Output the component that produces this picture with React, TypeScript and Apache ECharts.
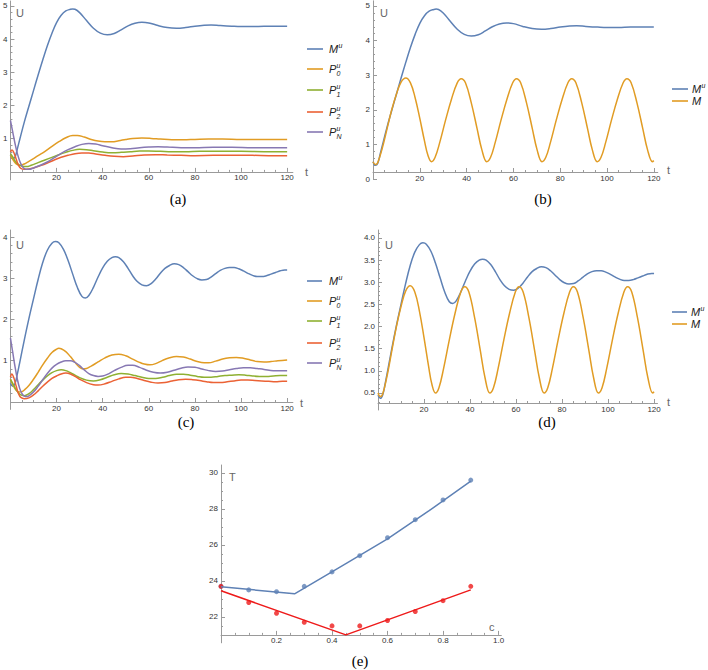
import React, { useEffect, useRef } from "react";
import * as echarts from "echarts";

const BLUE = "#5E81B5";
const ORANGE = "#E19C24";
const GREEN = "#8FB032";
const RED = "#EB6235";
const PURPLE = "#8778B3";
const PURE_RED = "#EE1A1A";
const AX = "#9a9a9a";

// ---- panel (a)/(b) : M^u ----
const muA: number[][] = [[0,0.5],[1,0.4],[2,0.45],[3,0.7],[4,0.97],[6,1.5],[8,1.98],[10,2.45],[12,2.92],[14,3.37],[16,3.8],[18,4.18],[20,4.5],[22,4.72],[24,4.85],[26,4.9],[27,4.91],[28,4.9],[30,4.8],[33,4.56],[36,4.33],[39,4.18],[42,4.13],[45,4.17],[48,4.28],[51,4.4],[54,4.48],[57,4.51],[60,4.49],[64,4.41],[68,4.35],[72,4.33],[76,4.35],[80,4.39],[84,4.42],[87,4.43],[91,4.41],[96,4.39],[100,4.38],[105,4.38],[110,4.39],[115,4.39],[120,4.39]];
const p0A: number[][] = [[0,0.5],[1,0.38],[2,0.28],[3,0.22],[4,0.2],[5,0.21],[6,0.24],[8,0.32],[10,0.4],[12,0.49],[15,0.62],[18,0.77],[21,0.91],[24,1.03],[27,1.1],[29,1.1],[32,1.05],[35,0.98],[38,0.93],[41,0.91],[44,0.91],[47,0.94],[50,0.98],[53,1.01],[57,1.02],[61,1.01],[65,0.99],[70,0.97],[75,0.97],[80,0.98],[86,0.99],[92,0.99],[100,0.98],[110,0.98],[120,0.98]];
const p1A: number[][] = [[0,0.55],[1,0.45],[2,0.33],[3,0.25],[4,0.2],[5,0.17],[7,0.16],[9,0.2],[12,0.28],[15,0.36],[18,0.44],[21,0.52],[24,0.59],[27,0.65],[30,0.68],[33,0.67],[36,0.64],[40,0.6],[44,0.58],[48,0.59],[52,0.61],[56,0.63],[60,0.63],[65,0.62],[70,0.61],[76,0.61],[82,0.62],[90,0.62],[100,0.62],[110,0.61],[120,0.61]];
const p2A: number[][] = [[0,0.6],[0.7,0.66],[1.5,0.58],[2.5,0.38],[3.5,0.2],[4.5,0.11],[6,0.08],[8,0.09],[10,0.12],[13,0.19],[16,0.27],[19,0.36],[22,0.44],[25,0.5],[28,0.55],[31,0.57],[34,0.57],[37,0.54],[41,0.5],[45,0.47],[49,0.46],[53,0.48],[58,0.51],[63,0.52],[68,0.51],[74,0.5],[80,0.49],[88,0.5],[96,0.5],[105,0.5],[112,0.49],[120,0.49]];
const pnA: number[][] = [[0,1.55],[1,1.2],[2,0.85],[3,0.55],[4,0.33],[5,0.18],[6,0.1],[7,0.08],[8,0.08],[10,0.12],[13,0.2],[16,0.3],[19,0.43],[22,0.56],[25,0.67],[28,0.76],[31,0.83],[34,0.86],[37,0.84],[40,0.79],[44,0.73],[48,0.69],[52,0.7],[56,0.73],[60,0.75],[64,0.76],[68,0.75],[74,0.73],[80,0.73],[88,0.74],[96,0.74],[105,0.73],[112,0.73],[120,0.73]];

// ---- panel (c)/(d) : M^u ----
const muC: number[][] = [[0,0.45],[1,0.38],[2,0.45],[3,0.68],[4,0.95],[6,1.5],[8,2.02],[10,2.5],[12,2.97],[14,3.38],[16,3.68],[18,3.85],[19.5,3.89],[21,3.86],[23,3.7],[25,3.43],[27,3.1],[29,2.78],[31,2.56],[32.5,2.52],[34,2.58],[36,2.78],[38,3.03],[40,3.25],[42,3.41],[44,3.5],[45.5,3.52],[47,3.5],[49,3.4],[51,3.24],[53,3.06],[55,2.92],[57,2.84],[59,2.82],[61,2.87],[63,2.98],[65,3.12],[67,3.24],[69,3.31],[71,3.35],[73,3.33],[75,3.26],[77,3.16],[79,3.06],[81,2.99],[83,2.96],[85,2.97],[87,3.03],[89,3.11],[91,3.19],[93,3.24],[95,3.26],[97,3.26],[99,3.23],[101,3.18],[103,3.12],[105,3.07],[107,3.04],[109,3.04],[111,3.06],[113,3.1],[115,3.14],[117,3.18],[119,3.2],[120,3.2]];
const p0C: number[][] = [[0,0.55],[1,0.42],[2,0.32],[3,0.26],[4,0.24],[5,0.25],[6,0.29],[8,0.4],[10,0.55],[12,0.72],[14,0.9],[16,1.06],[18,1.2],[20,1.28],[21,1.3],[22,1.29],[24,1.22],[26,1.1],[28,0.96],[30,0.84],[31.5,0.8],[33,0.81],[35,0.87],[38,0.97],[41,1.07],[44,1.14],[47,1.16],[50,1.12],[53,1.04],[56,0.96],[58,0.92],[60.5,0.9],[63,0.93],[66,1.01],[69,1.07],[72,1.1],[75,1.09],[78,1.04],[81,0.98],[84,0.95],[86,0.95],[89,0.99],[92,1.04],[95,1.07],[98,1.08],[101,1.06],[104,1.02],[107,0.98],[110,0.97],[113,0.98],[116,1.0],[120,1.02]];
const p1C: number[][] = [[0,0.55],[1,0.45],[2,0.34],[3,0.25],[4,0.19],[5,0.16],[6,0.15],[8,0.2],[10,0.3],[12,0.42],[14,0.53],[16,0.63],[18,0.71],[20,0.76],[22,0.78],[24,0.76],[26,0.71],[28,0.65],[30,0.59],[33,0.53],[36,0.51],[39,0.54],[42,0.6],[45,0.66],[48,0.69],[51,0.68],[54,0.64],[57,0.6],[60,0.57],[63,0.57],[66,0.6],[69,0.64],[72,0.67],[75,0.67],[78,0.65],[81,0.62],[84,0.6],[87,0.6],[90,0.62],[93,0.64],[96,0.65],[99,0.66],[102,0.65],[105,0.63],[108,0.62],[111,0.62],[114,0.63],[117,0.64],[120,0.64]];
const p2C: number[][] = [[0,0.6],[0.6,0.68],[1.5,0.58],[2.5,0.38],[3.5,0.2],[4.5,0.11],[6,0.08],[8,0.1],[10,0.17],[12,0.27],[14,0.38],[16,0.48],[18,0.57],[20,0.63],[22,0.68],[24,0.7],[26,0.68],[28,0.62],[30,0.55],[33,0.47],[36,0.42],[38,0.41],[41,0.44],[44,0.5],[47,0.56],[50,0.6],[52,0.6],[55,0.57],[58,0.52],[61,0.48],[64,0.46],[67,0.47],[70,0.51],[73,0.54],[76,0.55],[79,0.54],[82,0.52],[85,0.49],[88,0.47],[91,0.47],[94,0.49],[97,0.51],[100,0.53],[103,0.53],[106,0.52],[109,0.51],[112,0.5],[115,0.49],[118,0.5],[120,0.5]];
const pnC: number[][] = [[0,1.55],[1,1.2],[2,0.85],[3,0.55],[4,0.33],[5,0.2],[6,0.14],[7,0.13],[8,0.15],[10,0.24],[12,0.38],[14,0.54],[16,0.69],[18,0.82],[20,0.91],[22,0.97],[24,1.0],[26,1.0],[28,0.96],[30,0.88],[32,0.78],[34,0.69],[36,0.64],[38,0.62],[40,0.63],[42,0.67],[45,0.76],[48,0.84],[51,0.89],[53,0.89],[56,0.84],[59,0.77],[62,0.72],[65,0.7],[68,0.72],[71,0.77],[74,0.82],[77,0.85],[80,0.84],[83,0.8],[86,0.76],[89,0.74],[92,0.75],[95,0.78],[98,0.81],[101,0.83],[104,0.83],[107,0.81],[110,0.79],[114,0.76],[117,0.76],[120,0.76]];

// ---- M (panels b, d) ----
const mOsc: number[][] = [[0,0.5],[1,0.42],[2,0.47],[4,0.9],[6,1.45],[8,2.0],[10,2.45],[12,2.8],[14,2.92],[16,2.78],[18,2.35],[20,1.75],[22,1.1],[23.5,0.68],[25,0.5],[26.5,0.62],[28.5,1.05],[31,1.7],[33.5,2.3],[36,2.78],[37.7,2.9],[39.5,2.78],[42,2.2],[44.5,1.45],[46.5,0.85],[48.6,0.5],[50.2,0.62],[52.2,1.05],[54.7,1.7],[57.2,2.3],[59.7,2.78],[61.3,2.9],[63.1,2.78],[65.6,2.2],[68.1,1.45],[70.1,0.85],[72.2,0.5],[73.8,0.62],[75.8,1.05],[78.3,1.7],[80.8,2.3],[83.3,2.78],[84.9,2.9],[86.7,2.78],[89.2,2.2],[91.7,1.45],[93.7,0.85],[95.8,0.5],[97.4,0.62],[99.4,1.05],[101.9,1.7],[104.4,2.3],[106.9,2.78],[108.5,2.9],[110.3,2.78],[112.8,2.2],[115.3,1.45],[117.3,0.85],[119.4,0.5],[120,0.53]];

// ---- panel (e) ----
const cValues = [0, 0.1, 0.2, 0.3, 0.4, 0.5, 0.6, 0.7, 0.8, 0.9];
const blueT = [23.7, 23.5, 23.4, 23.7, 24.5, 25.4, 26.4, 27.4, 28.5, 29.6];
const redT = [23.7, 22.8, 22.2, 21.7, 21.5, 21.5, 21.8, 22.3, 22.9, 23.7];
const blueFit: number[][] = [[0,23.68],[0.265,23.28],[0.45,24.96],[0.6,26.33],[0.75,27.9],[0.9,29.55]];
const redFit: number[][] = [[0,23.45],[0.45,21.0],[0.9,23.5]];

// ---- tick labels ----
const tTicks = [20, 40, 60, 80, 100, 120];
const yTicksA = [1, 2, 3, 4, 5];
const yTicksB = [0, 1, 2, 3, 4, 5];
const yTicksC = [1, 2, 3, 4];
const yTicksD = [0.5, 1, 1.5, 2, 2.5, 3, 3.5, 4];
const cTicks = [0.2, 0.4, 0.6, 0.8, 1.0];
const TTicks = [22, 24, 26, 28, 30];

function minor(from: number, to: number, step: number, major: number): number[] {
  const out: number[] = [];
  const n = Math.round((to - from) / step);
  for (let i = 0; i <= n; i++) {
    const v = Math.round((from + i * step) * 1000) / 1000;
    const r = v / major;
    if (Math.abs(r - Math.round(r)) > 1e-6) out.push(v);
  }
  return out;
}

type Panel = {
  left: number; top: number; width: number; height: number;
  xMin: number; xMax: number; yMin: number; yMax: number; xOffset: number;
  xMajor: number[]; xMinor: number[]; yMajor: number[]; yMinor: number[];
  xFmt: (v: number) => string; yFmt: (v: number) => string;
};

const intFmt = (v: number) => String(Math.round(v));
const oneDec = (v: number) => v.toFixed(1);

const panels: Panel[] = [
  { left: 6.2, top: 1, width: 286.7, height: 178.9, xMin: 0, xMax: 122.5, yMin: -0.24, yMax: 5.15, xOffset: -8,
    xMajor: tTicks, xMinor: minor(5, 120, 5, 20), yMajor: yTicksA, yMinor: minor(0.2, 5, 0.2, 1), xFmt: intFmt, yFmt: intFmt },
  { left: 373, top: 0.8, width: 284.8, height: 178.2, xMin: 0, xMax: 121.7, yMin: 0, yMax: 5.15, xOffset: -7,
    xMajor: tTicks, xMinor: minor(5, 120, 5, 20), yMajor: yTicksB, yMinor: minor(0.2, 5, 0.2, 1), xFmt: intFmt, yFmt: intFmt },
  { left: 6.2, top: 230, width: 286.7, height: 179.4, xMin: 0, xMax: 122.5, yMin: -0.18, yMax: 4.17, xOffset: -7.4,
    xMajor: tTicks, xMinor: minor(5, 120, 5, 20), yMajor: yTicksC, yMinor: minor(0.2, 4, 0.2, 1), xFmt: intFmt, yFmt: intFmt },
  { left: 378, top: 230, width: 279.5, height: 180, xMin: 0, xMax: 121.5, yMin: 0.116, yMax: 4.18, xOffset: -7,
    xMajor: tTicks, xMinor: minor(5, 120, 5, 20), yMajor: yTicksD, yMinor: minor(0.3, 4.1, 0.1, 0.5), xFmt: intFmt, yFmt: oneDec },
  { left: 221, top: 465, width: 280.3, height: 177.8, xMin: 0, xMax: 1.01, yMin: 20.56, yMax: 30.44, xOffset: -7.9,
    xMajor: cTicks, xMinor: minor(0.05, 1.0, 0.05, 0.2), yMajor: TTicks, yMinor: minor(21, 30, 0.5, 2), xFmt: oneDec, yFmt: intFmt },
];

function buildAxes() {
  const xAxis: any[] = [];
  const yAxis: any[] = [];
  panels.forEach((p, i) => {
    const labelStyle = { fontSize: 8, color: "#333", fontFamily: "Liberation Sans" };
    xAxis.push({
      type: "value", gridIndex: i, position: "bottom", min: p.xMin, max: p.xMax, offset: p.xOffset,
      axisLine: { onZero: false, lineStyle: { color: AX, width: 1 } },
      axisTick: { inside: true, length: 4, customValues: p.xMajor, lineStyle: { color: AX } },
      axisLabel: { customValues: p.xMajor, margin: 2, formatter: p.xFmt, ...labelStyle },
      splitLine: { show: false },
    });
    xAxis.push({
      type: "value", gridIndex: i, position: "bottom", min: p.xMin, max: p.xMax, offset: p.xOffset,
      axisLine: { show: false, onZero: false },
      axisTick: { inside: true, length: 2, customValues: p.xMinor, lineStyle: { color: AX } },
      axisLabel: { show: false },
      splitLine: { show: false },
    });
    yAxis.push({
      type: "value", gridIndex: i, position: "left", min: p.yMin, max: p.yMax,
      axisLine: { onZero: false, lineStyle: { color: AX, width: 1 } },
      axisTick: { inside: true, length: 4, customValues: p.yMajor, lineStyle: { color: AX } },
      axisLabel: { customValues: p.yMajor, margin: 3, formatter: p.yFmt, ...labelStyle },
      splitLine: { show: false },
    });
    yAxis.push({
      type: "value", gridIndex: i, position: "left", min: p.yMin, max: p.yMax,
      axisLine: { show: false, onZero: false },
      axisTick: { inside: true, length: 2, customValues: p.yMinor, lineStyle: { color: AX } },
      axisLabel: { show: false },
      splitLine: { show: false },
    });
  });
  return { xAxis, yAxis };
}

function line(name: string, panel: number, data: number[][], color: string, smooth: number | boolean = 0.4) {
  return {
    type: "line", name, xAxisIndex: panel * 2, yAxisIndex: panel * 2, data,
    smooth, symbol: "none", lineStyle: { color, width: 1.5 }, itemStyle: { color },
  };
}

function txt(text: string, x: number, y: number, opts: any = {}) {
  const align = opts.align || "left";
  const va = opts.va || "middle";
  return {
    type: "text", x, y, silent: true,
    style: {
      text, fill: opts.fill || "#222", fontSize: opts.size || 11,
      fontFamily: opts.family || "Liberation Sans", fontStyle: opts.italic ? "italic" : "normal",
      align, textAlign: align, verticalAlign: va, textVerticalAlign: va,
    },
  };
}

function legendEntry(x1: number, x2: number, tx: number, y: number, color: string, main: string, sub: string | null, sup = true) {
  const els: any[] = [
    { type: "line", silent: true, shape: { x1, y1: y, x2, y2: y }, style: { stroke: color, lineWidth: 1.6 } },
    txt(main, tx, y, { italic: true, size: 11 }),
  ];
  const w = main === "M" ? 9.4 : 7.6;
  if (sup) els.push(txt("u", tx + w, y - 4, { italic: true, size: 7 }));
  if (sub) els.push(txt(sub, tx + w, y + 4, { italic: true, size: 7 }));
  return els;
}

function buildGraphic() {
  const g: any[] = [];
  const axisName = (t: string, x: number, y: number) => txt(t, x, y, { fill: "#666", size: 11 });
  g.push(axisName("U", 16, 13), axisName("t", 305, 172));
  g.push(axisName("U", 380, 13), axisName("t", 667, 170));
  g.push(axisName("U", 16, 245), axisName("t", 300, 403));
  g.push(axisName("U", 385, 245), axisName("t", 667, 402));
  g.push(axisName("T", 229, 477), axisName("c", 489, 627));

  const cap = (t: string, x: number, y: number) => txt(t, x, y, { align: "center", family: "Liberation Serif", size: 15, fill: "#000" });
  g.push(cap("(a)", 178, 199), cap("(b)", 543, 199), cap("(c)", 186, 422), cap("(d)", 547, 422), cap("(e)", 360, 661));

  const lyA = [49, 69, 90, 112, 132];
  const lyC = [281, 301, 321, 343, 363];
  const items: [string, string, string | null][] = [
    [BLUE, "M", null], [ORANGE, "P", "0"], [GREEN, "P", "1"], [RED, "P", "2"], [PURPLE, "P", "N"],
  ];
  items.forEach((it, k) => {
    g.push(...legendEntry(307, 323, 329, lyA[k], it[0], it[1], it[2]));
    g.push(...legendEntry(307, 322, 329, lyC[k], it[0], it[1], it[2]));
  });
  // (b) legend
  g.push(...legendEntry(672, 688, 692, 89, BLUE, "M", null));
  g.push(...legendEntry(672, 688, 692, 101, ORANGE, "M", null, false));
  // (d) legend
  g.push(...legendEntry(672, 687, 691, 312, BLUE, "M", null));
  g.push(...legendEntry(672, 687, 691, 324, ORANGE, "M", null, false));
  return g;
}

function buildOption() {
  const { xAxis, yAxis } = buildAxes();
  const series: any[] = [
    line("a-Mu", 0, muA, BLUE), line("a-P0", 0, p0A, ORANGE), line("a-P1", 0, p1A, GREEN), line("a-P2", 0, p2A, RED), line("a-PN", 0, pnA, PURPLE),
    line("b-Mu", 1, muA, BLUE), line("b-M", 1, mOsc, ORANGE),
    line("c-Mu", 2, muC, BLUE), line("c-P0", 2, p0C, ORANGE), line("c-P1", 2, p1C, GREEN), line("c-P2", 2, p2C, RED), line("c-PN", 2, pnC, PURPLE),
    line("d-Mu", 3, muC, BLUE), line("d-M", 3, mOsc, ORANGE),
    line("e-blueFit", 4, blueFit, BLUE, false), line("e-redFit", 4, redFit, PURE_RED, false),
    { type: "scatter", name: "e-blue", xAxisIndex: 8, yAxisIndex: 8, data: cValues.map((c, i) => [c, blueT[i]]), symbolSize: 5, itemStyle: { color: BLUE } },
    { type: "scatter", name: "e-red", xAxisIndex: 8, yAxisIndex: 8, data: cValues.map((c, i) => [c, redT[i]]), symbolSize: 5, itemStyle: { color: PURE_RED } },
  ];
  return {
    animation: false,
    backgroundColor: "#fff",
    grid: panels.map((p) => ({ left: p.left, top: p.top, width: p.width, height: p.height, containLabel: false })),
    xAxis, yAxis, series,
    graphic: buildGraphic(),
  };
}

export default function App() {
  const ref = useRef<HTMLDivElement>(null);
  useEffect(() => {
    document.body.style.margin = "0";
    const chart = echarts.init(ref.current!, null, { renderer: "svg" });
    chart.setOption(buildOption() as any);
    return () => chart.dispose();
  }, []);
  return <div ref={ref} style={{ width: 708, height: 670 }} />;
}
